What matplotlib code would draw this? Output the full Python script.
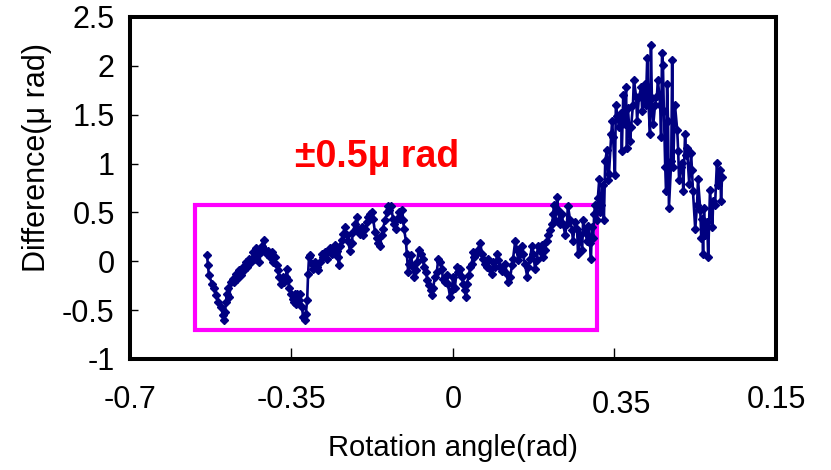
import matplotlib
matplotlib.use("Agg")
import matplotlib.pyplot as plt
import matplotlib.transforms as mtransforms
from matplotlib.patches import Rectangle

plt.rcParams["font.family"] = ["Liberation Sans", "DejaVu Sans"]

# rotation angle (rad) and difference (micro rad)
angle = [
    -0.533, -0.531, -0.529, -0.522, -0.518, -0.514, -0.509, -0.503, -0.498, -0.496,
    -0.494, -0.492, -0.490, -0.488, -0.485, -0.481, -0.477, -0.475, -0.470, -0.468,
    -0.464, -0.459, -0.455, -0.453, -0.449, -0.446, -0.442, -0.438, -0.433, -0.431,
    -0.427, -0.425, -0.420, -0.416, -0.414, -0.410, -0.407, -0.403, -0.401, -0.397,
    -0.392, -0.390, -0.386, -0.381, -0.379, -0.377, -0.373, -0.368, -0.366, -0.362,
    -0.360, -0.358, -0.355, -0.351, -0.347, -0.345, -0.342, -0.340, -0.338, -0.334,
    -0.332, -0.327, -0.325, -0.321, -0.319, -0.316, -0.314, -0.312, -0.310, -0.306,
    -0.303, -0.299, -0.295, -0.293, -0.288, -0.284, -0.282, -0.277, -0.273, -0.271,
    -0.267, -0.262, -0.260, -0.256, -0.251, -0.249, -0.247, -0.245, -0.241, -0.238,
    -0.234, -0.230, -0.228, -0.223, -0.219, -0.217, -0.212, -0.208, -0.206, -0.202,
    -0.197, -0.195, -0.191, -0.186, -0.184, -0.180, -0.176, -0.173, -0.169, -0.165,
    -0.163, -0.158, -0.154, -0.152, -0.147, -0.143, -0.141, -0.139, -0.134, -0.130,
    -0.128, -0.123, -0.121, -0.117, -0.115, -0.110, -0.108, -0.106, -0.102, -0.100,
    -0.097, -0.095, -0.091, -0.087, -0.084, -0.080, -0.078, -0.074, -0.069, -0.065,
    -0.063, -0.058, -0.056, -0.052, -0.048, -0.045, -0.043, -0.039, -0.035, -0.032,
    -0.028, -0.024, -0.022, -0.017, -0.013, -0.011, -0.006, -0.002, 0.000, 0.004,
    0.009, 0.011, 0.015, 0.020, 0.022, 0.026, 0.028, 0.030, 0.035, 0.037,
    0.041, 0.043, 0.046, 0.050, 0.054, 0.059, 0.063, 0.065, 0.070, 0.074,
    0.076, 0.080, 0.085, 0.087, 0.091, 0.096, 0.098, 0.102, 0.106, 0.109,
    0.113, 0.117, 0.119, 0.124, 0.128, 0.130, 0.135, 0.139, 0.141, 0.145,
    0.150, 0.152, 0.156, 0.161, 0.163, 0.167, 0.171, 0.174, 0.178, 0.182,
    0.184, 0.189, 0.193, 0.195, 0.200, 0.204, 0.206, 0.210, 0.215, 0.217,
    0.219, 0.221, 0.226, 0.228, 0.232, 0.236, 0.239, 0.243, 0.247, 0.249,
    0.254, 0.258, 0.260, 0.265, 0.269, 0.271, 0.275, 0.280, 0.282, 0.286,
    0.291, 0.293, 0.297, 0.299, 0.301, 0.304, 0.306, 0.308, 0.312, 0.314,
    0.317, 0.319, 0.321, 0.325, 0.327, 0.330, 0.334, 0.336, 0.338, 0.343,
    0.345, 0.347, 0.351, 0.353, 0.356, 0.360, 0.364, 0.366, 0.369, 0.373,
    0.375, 0.377, 0.379, 0.384, 0.386, 0.390, 0.392, 0.397, 0.399, 0.403,
    0.408, 0.410, 0.412, 0.416, 0.418, 0.421, 0.423, 0.427, 0.429, 0.431,
    0.434, 0.438, 0.442, 0.444, 0.449, 0.451, 0.453, 0.455, 0.457, 0.460,
    0.462, 0.464, 0.466, 0.468, 0.473, 0.475, 0.477, 0.481, 0.486, 0.488,
    0.490, 0.494, 0.497, 0.499, 0.503, 0.505, 0.507, 0.512, 0.516, 0.518,
    0.520, 0.525, 0.529, 0.531, 0.536, 0.538, 0.540, 0.542, 0.544, 0.546,
    0.551, 0.553, 0.557, 0.562, 0.564, 0.568, 0.572, 0.575, 0.579, 0.581,
    0.583,
]
difference = [
    0.06, -0.04, -0.14, -0.23, -0.27, -0.35, -0.42, -0.47, -0.55, -0.60,
    -0.52, -0.42, -0.34, -0.27, -0.37, -0.21, -0.18, -0.21, -0.13, -0.18,
    -0.09, -0.14, -0.06, -0.09, -0.01, -0.06, 0.02, -0.01, 0.09, 0.02,
    0.14, 0.07, -0.01, 0.09, 0.16, 0.22, 0.12, 0.07, 0.11, 0.04,
    0.09, -0.01, 0.04, -0.04, -0.09, -0.16, -0.23, -0.16, -0.21, -0.16,
    -0.08, -0.19, -0.27, -0.34, -0.39, -0.42, -0.34, -0.44, -0.34, -0.40,
    -0.34, -0.47, -0.57, -0.60, -0.54, -0.40, -0.13, 0.04, 0.06, -0.03,
    -0.08, -0.01, -0.06, -0.09, -0.01, 0.07, 0.04, 0.09, 0.02, 0.11,
    0.14, 0.07, 0.12, 0.17, 0.11, 0.04, -0.04, 0.16, 0.22, 0.28,
    0.35, 0.27, 0.21, 0.11, 0.19, 0.30, 0.38, 0.45, 0.33, 0.28,
    0.35, 0.27, 0.33, 0.40, 0.45, 0.48, 0.50, 0.43, 0.30, 0.24,
    0.19, 0.16, 0.27, 0.33, 0.42, 0.50, 0.57, 0.52, 0.57, 0.43,
    0.38, 0.33, 0.43, 0.50, 0.43, 0.52, 0.42, 0.33, 0.21, 0.07,
    -0.11, -0.03, 0.06, -0.06, -0.16, -0.09, -0.01, 0.12, 0.07, 0.02,
    -0.06, -0.11, -0.19, -0.24, -0.29, -0.35, -0.27, -0.16, -0.11, 0.02,
    -0.01, -0.08, -0.18, -0.21, -0.14, -0.23, -0.37, -0.29, -0.16, -0.27,
    -0.06, -0.11, -0.08, -0.16, -0.23, -0.29, -0.37, -0.23, -0.14, -0.06,
    -0.03, 0.09, 0.04, 0.07, 0.12, 0.19, 0.07, 0.02, -0.03, -0.06,
    0.02, -0.08, -0.13, -0.01, -0.06, 0.07, 0.01, -0.06, -0.10, -0.09,
    -0.03, -0.13, -0.21, -0.16, -0.04, 0.02, 0.21, 0.12, 0.01, 0.07,
    0.16, 0.07, -0.03, -0.16, -0.06, 0.02, 0.16, 0.07, -0.08, 0.01,
    0.16, 0.11, 0.17, 0.04, 0.12, 0.21, 0.27, 0.32, 0.38, 0.48,
    0.58, 0.42, 0.66, 0.52, 0.38, 0.48, 0.38, 0.27, 0.38, 0.57,
    0.42, 0.32, 0.21, 0.40, 0.33, 0.07, 0.27, 0.12, 0.42, 0.30,
    0.21, 0.36, 0.19, 0.02, 0.35, 0.24, 0.48, 0.58, 0.42, 0.65,
    0.84, 0.50, 0.58, 0.78, 0.42, 1.03, 1.14, 0.83, 0.89, 1.30,
    1.44, 1.27, 0.88, 1.60, 1.49, 1.37, 1.52, 1.13, 1.70, 1.40,
    1.78, 1.16, 1.57, 1.23, 1.37, 1.60, 1.86, 1.68, 1.44, 1.68,
    1.78, 1.54, 1.69, 1.81, 1.60, 2.08, 1.67, 1.30, 2.21, 1.67,
    1.40, 1.60, 1.69, 1.86, 1.60, 1.27, 2.13, 2.01, 1.54, 0.96,
    0.72, 1.81, 1.44, 0.55, 1.03, 2.06, 0.96, 1.60, 1.34, 1.13,
    0.83, 0.96, 1.01, 0.72, 1.30, 1.09, 1.16, 0.79, 1.11, 0.93,
    0.72, 0.33, 0.58, 0.84, 0.52, 0.24, 0.43, 0.07, 0.55, 0.27,
    0.40, 0.04, 0.73, 0.35, 0.62, 0.58, 1.01, 0.78, 0.93, 0.62,
    0.86,
]

x_ticks = [-0.7, -0.35, 0, 0.35, 0.7]
x_tick_labels = ["-0.7", "-0.35", "0", "0.35", "0.15"]
y_ticks = [-1, -0.5, 0, 0.5, 1, 1.5, 2, 2.5]
y_tick_labels = ["-1", "-0.5", "0", "0.5", "1", "1.5", "2", "2.5"]

# +/-0.5 band box: (left, bottom, right, top)
box = (-0.558, -0.70, 0.312, 0.58)

fig = plt.figure(figsize=(8.31, 4.70), dpi=100)
ax = fig.add_axes([0.1564, 0.2362, 0.7774, 0.7277])

ax.add_patch(Rectangle((box[0], box[1]), box[2] - box[0], box[3] - box[1],
                       fill=False, edgecolor="#FF00FF", linewidth=3, zorder=2))
ax.plot(angle, difference, color="#000080", linewidth=1.9, marker="D",
        markersize=3.9, zorder=3)

ax.text(-0.165, 1.07, "±0.5μ rad", color="#FF0000", fontsize=27,
        fontweight="bold", ha="center", va="center")

ax.set_xlim(-0.7, 0.7)
ax.set_ylim(-1, 2.5)
ax.set_xticks(x_ticks)
ax.set_xticklabels(x_tick_labels)
ax.set_yticks(y_ticks)
ax.set_yticklabels(y_tick_labels)
ax.tick_params(axis="both", direction="in", labelsize=22, width=1)
ax.tick_params(axis="x", length=8, pad=19)
ax.tick_params(axis="y", length=6, pad=11)

for side in ["top", "right", "bottom", "left"]:
    ax.spines[side].set_linewidth(2.9)
    ax.spines[side].set_color("black")

# excel put the 0.35 label a bit off its tick
lab = ax.get_xticklabels()[3]
lab.set_transform(lab.get_transform()
                  + mtransforms.ScaledTranslation(7 / 100, -5 / 100, fig.dpi_scale_trans))

ax.set_xlabel("Rotation angle(rad)", fontsize=21, labelpad=10)
ax.set_ylabel("Difference(μ rad)", fontsize=22)
ax.yaxis.set_label_coords(-0.12, 0.59)

fig.savefig("out.png", dpi=100)
